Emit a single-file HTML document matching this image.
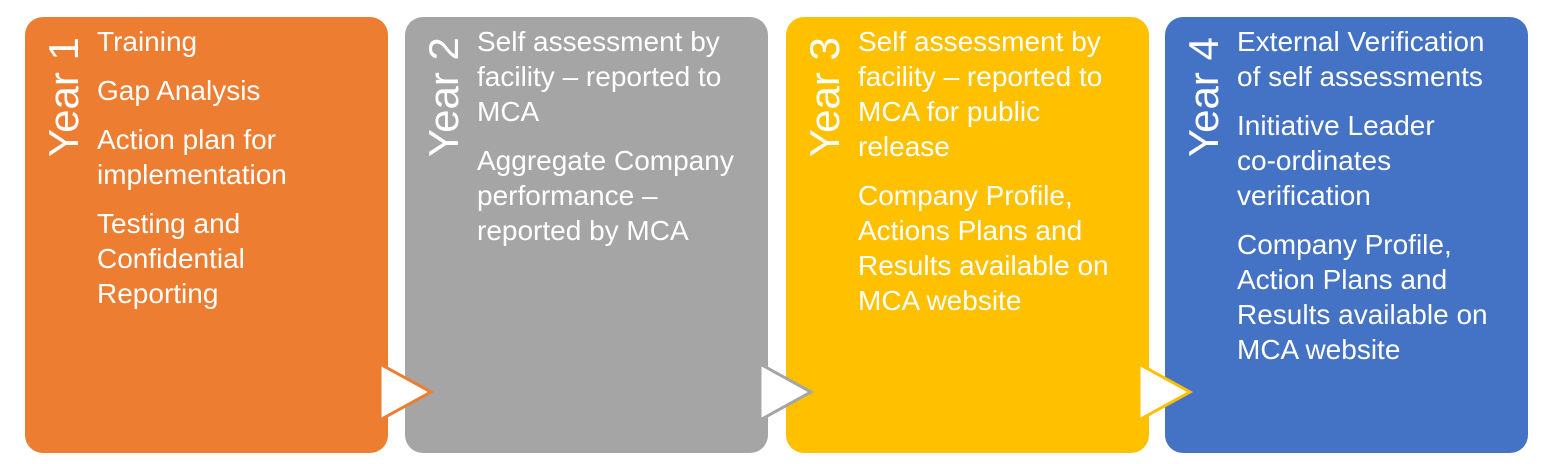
<!DOCTYPE html>
<html><head><meta charset="utf-8"><style>
body{margin:0;width:1546px;height:464px;background:#fff;position:relative;overflow:hidden;font-family:"Liberation Sans",sans-serif;}
.b{position:absolute;top:17px;height:436px;width:363px;border-radius:18px;color:#fff;}
.y{position:absolute;left:18px;top:140px;transform-origin:0 0;transform:rotate(-90deg);font-size:42px;line-height:42px;white-space:nowrap;}
.t{position:absolute;left:72px;top:7px;font-size:28px;line-height:35px;white-space:nowrap;}
.t p{margin:0 0 14px 0;}
svg{position:absolute;left:0;top:0;}
</style></head><body>
<div class="b" style="left:25px;background:#ED7D31"><div class="y">Year 1</div><div class="t"><p>Training</p><p>Gap Analysis</p><p>Action plan for<br>implementation</p><p>Testing and<br>Confidential<br>Reporting</p></div></div>
<div class="b" style="left:405px;background:#A5A5A5"><div class="y">Year 2</div><div class="t"><p>Self assessment by<br>facility – reported to<br>MCA</p><p>Aggregate Company<br>performance –<br>reported by MCA</p></div></div>
<div class="b" style="left:786px;background:#FFC000"><div class="y">Year 3</div><div class="t"><p>Self assessment by<br>facility – reported to<br>MCA for public<br>release</p><p>Company Profile,<br>Actions Plans and<br>Results available on<br>MCA website</p></div></div>
<div class="b" style="left:1165px;background:#4472C4"><div class="y">Year 4</div><div class="t"><p>External Verification<br>of self assessments</p><p>Initiative Leader<br>co-ordinates<br>verification</p><p>Company Profile,<br>Action Plans and<br>Results available on<br>MCA website</p></div></div>
<svg width="1546" height="464">
<polygon points="380,364 431,392 380,420" fill="#fff" stroke="#ED7D31" stroke-width="3"/>
<polygon points="760,364 811,392 760,420" fill="#fff" stroke="#A5A5A5" stroke-width="3"/>
<polygon points="1139,364 1190,392 1139,420" fill="#fff" stroke="#FFC000" stroke-width="3"/>
</svg>
</body></html>
